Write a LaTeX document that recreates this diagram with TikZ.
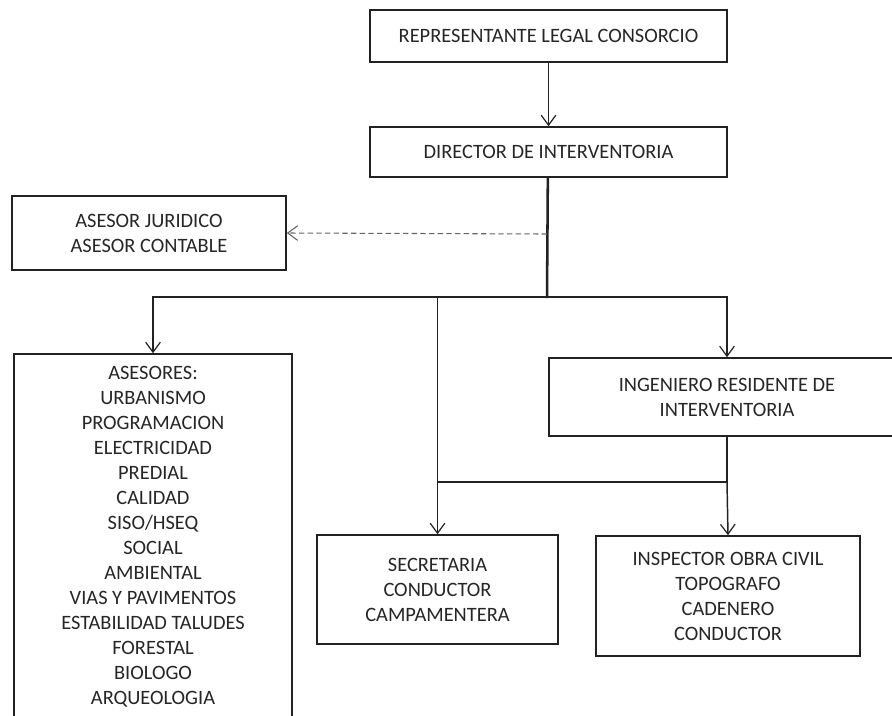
\documentclass[tikz,border=0pt]{standalone}
\usepackage{fontspec}
\setmainfont{Carlito}
\usetikzlibrary{arrows.meta}
\definecolor{txt}{HTML}{262626}
\definecolor{ln}{HTML}{222222}
\begin{document}
\begin{tikzpicture}[x=0.75pt,y=-0.75pt,
  box/.style={draw=ln,line width=1.2pt,rectangle,inner sep=0pt,align=center,
    text=txt,font=\fontsize{15.3pt}{18.75pt}\selectfont},
  conn/.style={draw=ln,line width=1.1pt},
  trunk/.style={draw=ln,line width=1.9pt},
  arr/.style={conn,-{Straight Barb[length=7.5pt,width=11pt,line width=0.9pt]}},
  dsh/.style={draw=ln!70,line width=0.8pt,dash pattern=on 4pt off 2.5pt,
    -{Straight Barb[length=7.5pt,width=11pt,line width=0.8pt]}}]
\useasboundingbox (0,0) rectangle (892,715);
\fill[white] (0,0) rectangle (892,715);
\begin{scope}
\clip (0,0) rectangle (892,715);
\node[box,minimum width=357*0.75pt,minimum height=52*0.75pt] (rep) at (548.5,36) {REPRESENTANTE LEGAL CONSORCIO};
\node[box,minimum width=357*0.75pt,minimum height=50*0.75pt] (dir) at (548.5,152) {DIRECTOR DE INTERVENTORIA};
\node[box,minimum width=274*0.75pt,minimum height=74*0.75pt] (jur) at (149,233) {ASESOR JURIDICO\\ASESOR CONTABLE};
\node[box,minimum width=278*0.75pt,minimum height=366*0.75pt] (ase) at (153,537) {ASESORES:\\URBANISMO\\PROGRAMACION\\ELECTRICIDAD\\PREDIAL\\CALIDAD\\SISO/HSEQ\\SOCIAL\\AMBIENTAL\\VIAS Y PAVIMENTOS\\ESTABILIDAD TALUDES\\FORESTAL\\BIOLOGO\\ARQUEOLOGIA};
\node[box,minimum width=356*0.75pt,minimum height=78*0.75pt] (ing) at (727,397) {INGENIERO RESIDENTE DE\\INTERVENTORIA};
\node[box,minimum width=241*0.75pt,minimum height=109*0.75pt] (sec) at (437.5,589.5) {SECRETARIA\\CONDUCTOR\\CAMPAMENTERA};
\node[box,minimum width=264*0.75pt,minimum height=120*0.75pt] (insp) at (728,596) {INSPECTOR OBRA CIVIL\\TOPOGRAFO\\CADENERO\\CONDUCTOR};

\coordinate (j) at (547,297);
\coordinate (d) at (547,234);
\coordinate (k) at (437.5,297);
\coordinate (m) at (727,482);
\coordinate (n) at (437.5,482);

\draw[arr] (rep.south) -- (dir.north);
\draw[arr] (j) -| (ase.north);
\draw[arr] (j) -| (ing.north);
\draw[trunk] ([xshift=-0.5pt]dir.south) -- ([yshift=-0.9pt]j);
\draw[dsh] (d) -- (jur.east);
\draw[arr] (k) -- (sec.north);
\draw[conn] (ing.south) -- (m) -- (n);
\draw[arr] (m) -- (insp.north);
\end{scope}
\end{tikzpicture}
\end{document}
